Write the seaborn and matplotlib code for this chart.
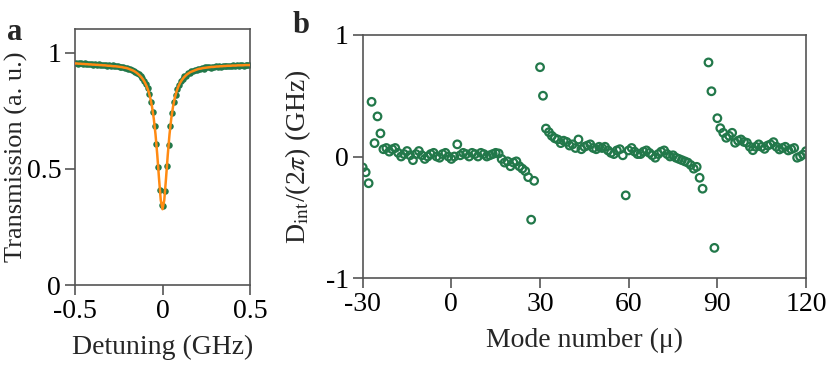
import numpy as np
import pandas as pd
import matplotlib
matplotlib.use("Agg")
import matplotlib.pyplot as plt
import seaborn as sns

# ---- panel a: transmission dip ----
detuning_pts = np.linspace(-0.495, 0.495, 100)
trans_pts = [
    0.955, 0.952, 0.956, 0.953, 0.951, 0.954, 0.950, 0.952, 0.949, 0.951,
    0.948, 0.950, 0.947, 0.949, 0.946, 0.948, 0.945, 0.947, 0.944, 0.946,
    0.943, 0.945, 0.941, 0.943, 0.940,
    0.939, 0.937, 0.936, 0.933, 0.932, 0.929, 0.928, 0.924, 0.922, 0.917,
    0.913, 0.906, 0.899, 0.889, 0.879, 0.863, 0.846, 0.821, 0.787, 0.744,
    0.684, 0.607, 0.509, 0.407, 0.342,
    0.340, 0.405, 0.510, 0.604, 0.685, 0.741, 0.787, 0.817, 0.845, 0.859,
    0.877, 0.885, 0.897, 0.901, 0.910, 0.912, 0.919, 0.920, 0.926, 0.925,
    0.930, 0.928, 0.933, 0.931, 0.936,
    0.936, 0.938, 0.935, 0.939, 0.937, 0.940, 0.938, 0.941, 0.939, 0.942,
    0.940, 0.943, 0.941, 0.944, 0.942, 0.945, 0.943, 0.946, 0.943, 0.945,
    0.947, 0.944, 0.946, 0.948, 0.945,
]
detuning_fit = np.linspace(-0.5, 0.5, 101)
trans_fit = [
    0.953, 0.953, 0.952, 0.952, 0.951, 0.951, 0.950, 0.950, 0.949, 0.949,
    0.948, 0.948, 0.947, 0.947, 0.946, 0.946, 0.945, 0.945, 0.944, 0.943,
    0.943, 0.942, 0.941, 0.941, 0.940,
    0.939, 0.938, 0.937, 0.935, 0.934, 0.932, 0.929, 0.926, 0.923, 0.919,
    0.914, 0.908, 0.901, 0.893, 0.883, 0.870, 0.854, 0.833, 0.805, 0.767,
    0.716, 0.648, 0.560, 0.458, 0.365,
    0.326, 0.365, 0.458, 0.560, 0.648, 0.716, 0.767, 0.804, 0.832, 0.853,
    0.869, 0.881, 0.891, 0.899, 0.906, 0.911, 0.916, 0.919, 0.922, 0.925,
    0.928, 0.930, 0.931, 0.933, 0.934, 0.935,
    0.936, 0.937, 0.938, 0.938, 0.939, 0.940, 0.940, 0.941, 0.941, 0.942,
    0.942, 0.943, 0.943, 0.943, 0.944, 0.944, 0.944, 0.945, 0.945, 0.945,
    0.945, 0.946, 0.946, 0.946, 0.946,
]

# ---- panel b: integrated dispersion ----
mode_a = list(range(-30, 29))
dint_a = [
    -0.09, -0.13, -0.22, 0.45, 0.11, 0.33, 0.19,
    0.06, 0.07, 0.04, 0.06, 0.07, 0.03, 0.00, 0.02, 0.045, 0.01,
    -0.03, 0.02, 0.045, 0.01, -0.02, 0.00, 0.02, 0.03, 0.00, -0.01,
    0.02, 0.03, 0.00, -0.02, 0.00, 0.10, 0.01, 0.03, 0.02, 0.00,
    0.03, 0.02, 0.00, 0.03, 0.02, 0.00, 0.01, 0.02, 0.03, 0.025,
    -0.02, -0.05, -0.04, -0.08, -0.05, -0.04, -0.08, -0.10, -0.12, -0.17,
    -0.52, -0.20,
]
mode_b = list(range(30, 86))
dint_b = [
    0.735, 0.50, 0.23, 0.20, 0.17, 0.15, 0.14, 0.11, 0.13, 0.12,
    0.09, 0.10, 0.07, 0.14, 0.06, 0.08, 0.09, 0.10, 0.07, 0.06,
    0.08, 0.07, 0.08, 0.05, 0.03, 0.02, 0.05, 0.06, 0.01, -0.32,
    0.05, 0.07, 0.04, 0.02, 0.02, 0.04, 0.05, 0.03, 0.01, -0.01,
    0.02, 0.04, 0.05, 0.02, 0.00, 0.01, -0.01, -0.02, -0.03, -0.04,
    -0.05, -0.07, -0.10, -0.085, -0.175, -0.265,
]
mode_c = list(range(87, 121))
dint_c = [
    0.774, 0.537, -0.752, 0.315, 0.233, 0.195, 0.154, 0.17, 0.195, 0.113,
    0.13, 0.14, 0.12, 0.113, 0.08, 0.052, 0.08, 0.10, 0.08, 0.063,
    0.09, 0.10, 0.118, 0.08, 0.058, 0.07, 0.08, 0.05, 0.06, 0.07,
    -0.01, 0.00, 0.016, 0.044,
]

green = "#22784a"
orange = "#ff8a12"
grey = "#555555"

sns.set_style("ticks")
plt.rcParams["font.family"] = ["Liberation Serif", "DejaVu Serif"]
plt.rcParams["mathtext.fontset"] = "stix"
plt.rcParams["axes.unicode_minus"] = False
plt.rcParams["axes.edgecolor"] = grey
plt.rcParams["axes.linewidth"] = 1.2
plt.rcParams["xtick.color"] = grey
plt.rcParams["ytick.color"] = grey
plt.rcParams["xtick.labelcolor"] = "black"
plt.rcParams["ytick.labelcolor"] = "black"

fig = plt.figure(figsize=(8.3, 3.66), dpi=100)
ax1 = fig.add_axes([0.0904, 0.2213, 0.2108, 0.6987])
ax2 = fig.add_axes([0.4370, 0.2404, 0.5341, 0.6640])

df_pts = pd.DataFrame({"x": detuning_pts, "y": trans_pts})
df_fit = pd.DataFrame({"x": detuning_fit, "y": trans_fit})
sns.scatterplot(data=df_pts, x="x", y="y", ax=ax1, color=green, s=22,
                linewidth=0, zorder=2)
sns.lineplot(data=df_fit, x="x", y="y", ax=ax1, color=orange, lw=1.8,
             sort=False, estimator=None, zorder=3)
ax1.set_xlim(-0.5, 0.5)
ax1.set_ylim(0, 1.1)
ax1.set_xticks([-0.5, 0, 0.5])
ax1.set_xticklabels(["-0.5", "0", "0.5"])
ax1.set_yticks([0, 0.5, 1])
ax1.set_yticklabels(["0", "0.5", "1"])
ax1.set_xlabel("Detuning (GHz)", fontsize=20, labelpad=8)
ax1.set_ylabel("Transmission (a. u.)", fontsize=19)
ax1.yaxis.set_label_coords(-0.27, 0.5)

modes = mode_a + mode_b + mode_c
dint = dint_a + dint_b + dint_c
df_b = pd.DataFrame({"mode": modes, "dint": dint})
sns.scatterplot(data=df_b, x="mode", y="dint", ax=ax2, marker="o",
                facecolor="none", edgecolor=green, linewidth=1.6, s=30)
ax2.set_xlim(-30, 120)
ax2.set_ylim(-1, 1)
ax2.set_xticks([-30, 0, 30, 60, 90, 120])
ax2.set_yticks([-1, 0, 1])
ax2.set_xlabel("Mode number (μ)", fontsize=20, labelpad=8)
ax2.set_ylabel(r"D$_{\rm int}$/(2$\pi$) (GHz)", fontsize=20)
ax2.yaxis.set_label_coords(-0.112, 0.5)

for ax in (ax1, ax2):
    ax.tick_params(direction="out", length=7, width=1.2, labelsize=20, pad=3)
    for sp in ax.spines.values():
        sp.set_visible(True)

fig.text(0.008, 1 - 40 / 366, "a", fontsize=22, fontweight="bold", va="baseline")
fig.text(0.352, 1 - 33 / 366, "b", fontsize=22, fontweight="bold", va="baseline")

fig.savefig("out.png", dpi=100)
